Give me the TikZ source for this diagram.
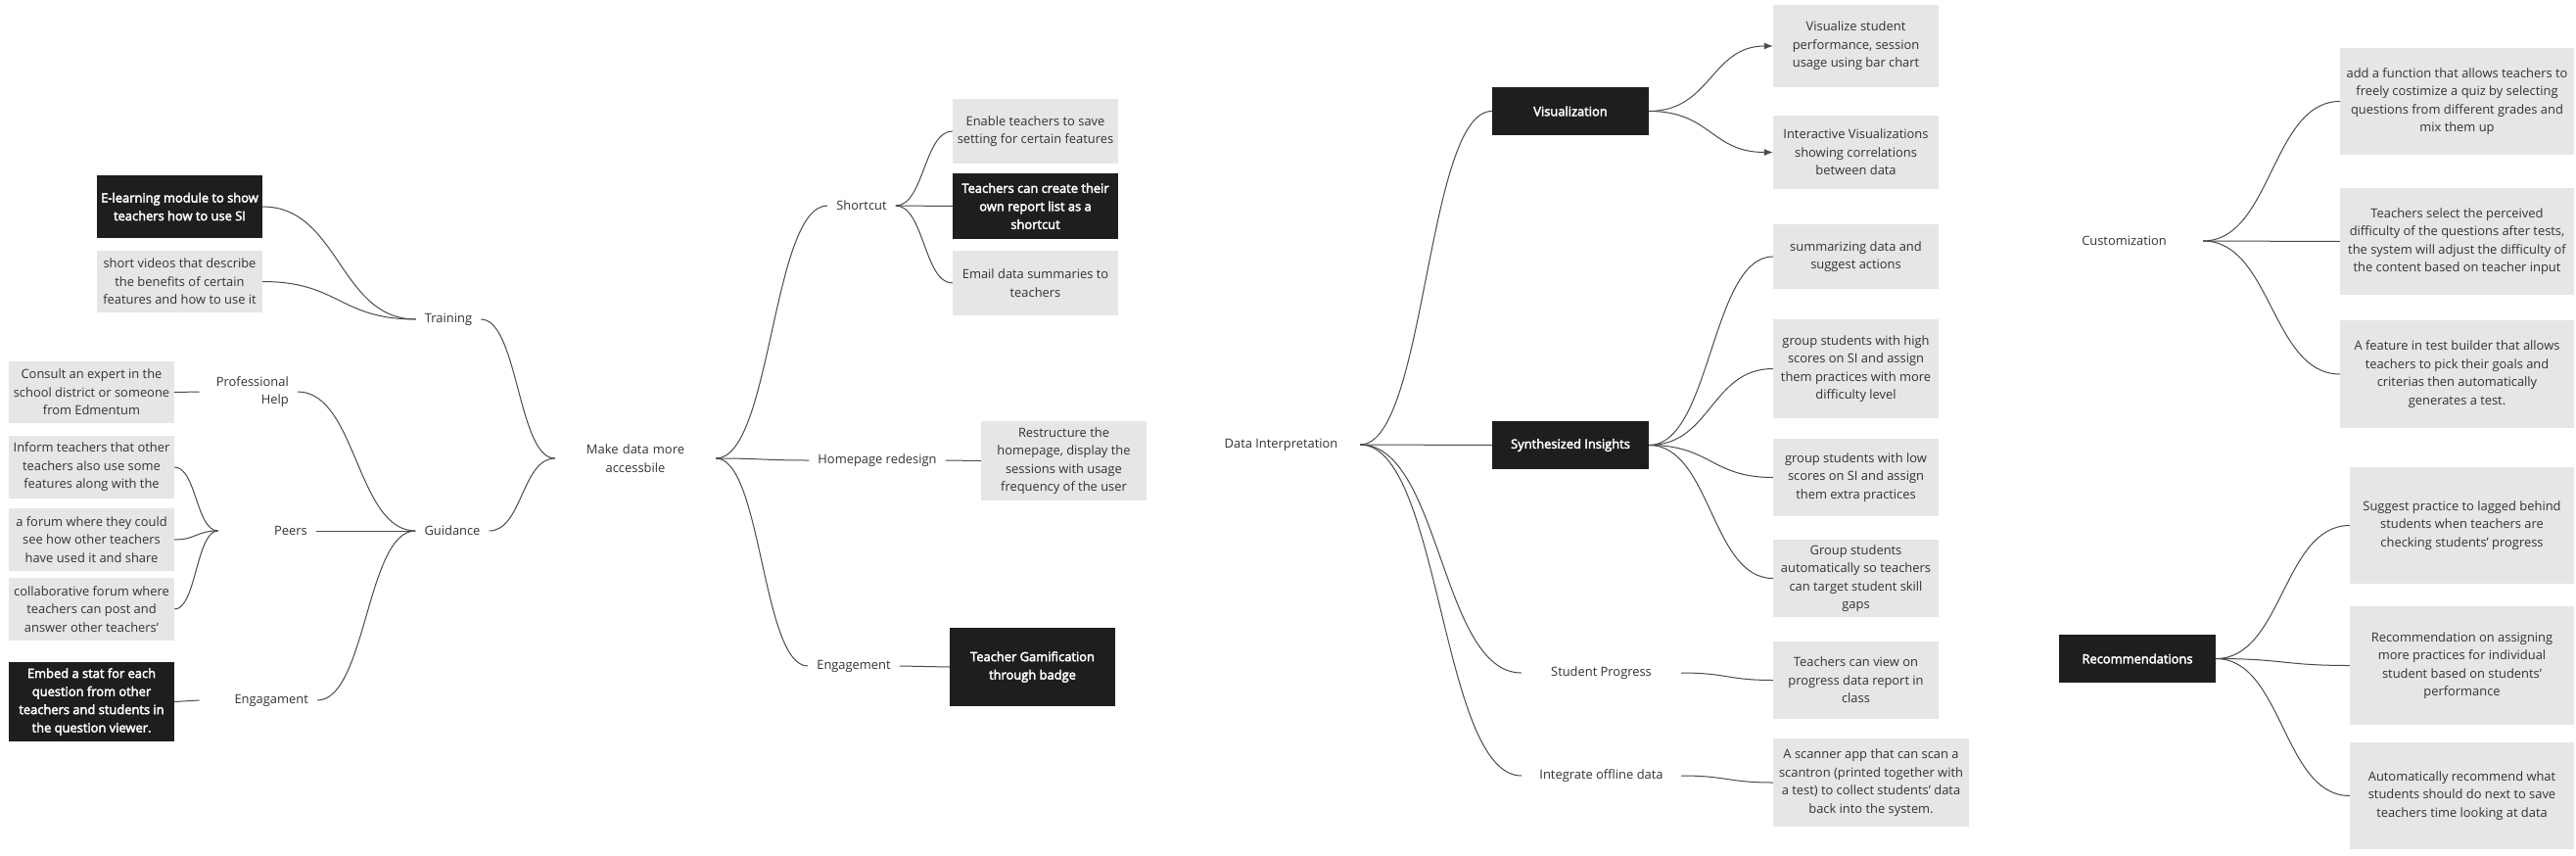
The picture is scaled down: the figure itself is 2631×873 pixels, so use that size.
\documentclass[tikz,border=0pt]{standalone}
\usepackage{fontspec}
\setmainfont{Open Sans}
\newfontfamily\semib{Open Sans}[FakeBold=3]
\usetikzlibrary{calc,arrows.meta}
\definecolor{boxgray}{HTML}{E6E6E6}
\definecolor{boxblack}{HTML}{1E1E1E}
\definecolor{txt}{HTML}{333333}
\definecolor{lnc}{HTML}{4A4A4A}
\newcommand\mmfont{\fontsize{12.9}{18.5}\selectfont}
\tikzset{
  gbox/.style={fill=boxgray, text=txt, align=center, inner xsep=1pt, inner ysep=0pt, font=\mmfont},
  bbox/.style={fill=boxblack, text=white, align=center, inner xsep=1pt, inner ysep=0pt, font=\mmfont\semib},
  lbl/.style={text=txt, align=center, inner xsep=9pt, inner ysep=2pt, font=\mmfont},
  mm/.style={to path={let \p1=(\tikztostart), \p2=(\tikztotarget) in
     .. controls ({(\x1+\x2)/2},\y1) and ({(\x1+\x2)/2},\y2) .. (\tikztotarget)}},
  link/.style={draw=lnc, line width=1pt},
  arr/.style={link, -{Latex[length=9pt,width=7pt]}}
}
\begin{document}
\begin{tikzpicture}[x=1pt,y=-1pt]
\fill[white] (0,0) rectangle (2631,873);
\useasboundingbox (0,0) rectangle (2631,873);

% ---------- left part ----------
\node[bbox, minimum width=169, minimum height=64] (elearn) at (183.5,211) {E-learning module to show\\teachers how to use SI};
\node[gbox, minimum width=169, minimum height=63] (videos) at (183.5,287.5) {short videos that describe\\the benefits of certain\\features and how to use it};
\node[lbl] (training) at (458,326) {Training};
\node[gbox, minimum width=169, minimum height=63] (consult) at (93.5,400.5) {Consult an expert in the\\school district or someone\\from Edmentum};
\node[lbl, text width=82pt, align=right, anchor=east] (prof) at (304,400) {Professional\\Help};
\node[gbox, minimum width=169, minimum height=64] (inform) at (93.5,477) {Inform teachers that other\\teachers also use some\\features along with the};
\node[gbox, minimum width=169, minimum height=64] (forum) at (93.5,551) {a forum where they could\\see how other teachers\\have used it and share};
\node[gbox, minimum width=169, minimum height=64] (collab) at (93.5,622) {collaborative forum where\\teachers can post and\\answer other teachers'};
\node[lbl, text width=82pt, align=right, anchor=east] (peers) at (323,542) {Peers};
\node[lbl] (guidance) at (462,542) {Guidance};
\node[bbox, minimum width=169, minimum height=81] (embed) at (93.5,716.5) {Embed a stat for each\\question from other\\teachers and students in\\the question viewer.};
\node[lbl, text width=102pt, align=right, anchor=east] (engag) at (324,715) {Engagament};

\node[lbl, text width=146pt] (make) at (649,468) {Make data more\\accessbile};
\node[lbl] (shortcut) at (880,210) {Shortcut};
\node[gbox, minimum width=169, minimum height=66] (enable) at (1057.5,134) {Enable teachers to save\\setting for certain features};
\node[bbox, minimum width=169, minimum height=67] (create) at (1057.5,210.5) {Teachers can create their\\own report list as a\\shortcut};
\node[gbox, minimum width=169, minimum height=66] (email) at (1057.5,289) {Email data summaries to\\teachers};
\node[lbl] (homepage) at (896,470) {Homepage redesign};
\node[gbox, minimum width=169, minimum height=81] (restructure) at (1086.5,470.5) {Restructure the\\homepage, display the\\sessions with usage\\frequency of the user};
\node[lbl] (engage) at (872,680) {Engagement};
\node[bbox, minimum width=169, minimum height=80] (gamif) at (1054.5,681) {Teacher Gamification\\through badge};

\draw[link] (elearn.east) to[mm] (training.west);
\draw[link] (videos.east) to[mm] (training.west);
\draw[link] (consult.east) -- (prof.west);
\draw[link] (inform.east) to[mm] (peers.west);
\draw[link] (forum.east) to[mm] (peers.west);
\draw[link] (collab.east) to[mm] (peers.west);
\draw[link] (embed.east) -- (engag.west);
\draw[link] (prof.east) to[mm] (guidance.west);
\draw[link] (peers.east) to[mm] (guidance.west);
\draw[link] (engag.east) to[mm] (guidance.west);
\draw[link] (training.east) to[mm] (make.west);
\draw[link] (guidance.east) to[mm] (make.west);
\draw[link] (make.east) to[mm] (shortcut.west);
\draw[link] (make.east) to[mm] (homepage.west);
\draw[link] (make.east) to[mm] (engage.west);
\draw[link] (shortcut.east) to[mm] (enable.west);
\draw[link] (shortcut.east) to[mm] (create.west);
\draw[link] (shortcut.east) to[mm] (email.west);
\draw[link] (homepage.east) to[mm] (restructure.west);
\draw[link] (engage.east) to[mm] (gamif.west);

% ---------- data interpretation ----------
\node[lbl, minimum width=161] (di) at (1308.5,454) {Data Interpretation};
\node[bbox, minimum width=160, minimum height=49] (vis) at (1604,113.5) {Visualization};
\node[gbox, minimum width=169, minimum height=84] (vstudent) at (1895.5,47) {Visualize student\\performance, session\\usage using bar chart};
\node[gbox, minimum width=169, minimum height=75] (inter) at (1895.5,155.5) {Interactive Visualizations\\showing correlations\\between data};
\node[bbox, minimum width=160, minimum height=49] (si) at (1604,454.5) {Synthesized Insights};
\node[gbox, minimum width=169, minimum height=66] (summ) at (1895.5,262) {summarizing data and\\suggest actions};
\node[gbox, minimum width=169, minimum height=101] (ghigh) at (1895.5,376.5) {group students with high\\scores on SI and assign\\them practices with more\\difficulty level};
\node[gbox, minimum width=169, minimum height=79] (glow) at (1895.5,487.5) {group students with low\\scores on SI and assign\\them extra practices};
\node[gbox, minimum width=169, minimum height=79] (gstud) at (1895.5,590.5) {Group students\\automatically so teachers\\can target student skill\\gaps};
\node[lbl, minimum width=163] (sp) at (1635.5,687) {Student Progress};
\node[gbox, minimum width=169, minimum height=79] (tcv) at (1895.5,694.5) {Teachers can view on\\progress data report in\\class};
\node[lbl, minimum width=163] (iod) at (1635.5,792) {Integrate offline data};
\node[gbox, minimum width=200, minimum height=90] (scan) at (1911,799) {A scanner app that can scan a\\scantron (printed together with\\a test) to collect students' data\\back into the system.};

\draw[link] (di.east) to[mm] (vis.west);
\draw[link] (di.east) to[mm] (si.west);
\draw[link] (di.east) to[mm] (sp.west);
\draw[link] (di.east) to[mm] (iod.west);
\draw[arr] (vis.east) to[mm] (vstudent.west);
\draw[arr] (vis.east) to[mm] (inter.west);
\draw[link] (si.east) to[mm] (summ.west);
\draw[link] (si.east) to[mm] (ghigh.west);
\draw[link] (si.east) to[mm] (glow.west);
\draw[link] (si.east) to[mm] (gstud.west);
\draw[link] (sp.east) to[mm] (tcv.west);
\draw[link] (iod.east) to[mm] (scan.west);

% ---------- customization / recommendations ----------
\node[lbl, minimum width=161] (cust) at (2169.5,246) {Customization};
\node[gbox, minimum width=239, minimum height=109] (addf) at (2509.5,103.5) {add a function that allows teachers to\\freely costimize a quiz by selecting\\questions from different grades and\\mix them up};
\node[gbox, minimum width=239, minimum height=109] (tsel) at (2509.5,246.5) {Teachers select the perceived\\difficulty of the questions after tests,\\the system will adjust the difficulty of\\the content based on teacher input};
\node[gbox, minimum width=239, minimum height=110] (feat) at (2509.5,382) {A feature in test builder that allows\\teachers to pick their goals and\\criterias then automatically\\generates a test.};
\node[bbox, minimum width=160, minimum height=49] (rec) at (2183,672.5) {Recommendations};
\node[gbox, minimum width=229, minimum height=119] (sugg) at (2514.5,536.5) {Suggest practice to lagged behind\\students when teachers are\\checking students' progress};
\node[gbox, minimum width=229, minimum height=121] (recon) at (2514.5,679.5) {Recommendation on assigning\\more practices for individual\\student based on students'\\performance};
\node[gbox, minimum width=229, minimum height=109] (autor) at (2514.5,812.5) {Automatically recommend what\\students should do next to save\\teachers time looking at data};

\draw[link] (cust.east) to[mm] (addf.west);
\draw[link] (cust.east) to[mm] (tsel.west);
\draw[link] (cust.east) to[mm] (feat.west);
\draw[link] (rec.east) to[mm] (sugg.west);
\draw[link] (rec.east) to[mm] (recon.west);
\draw[link] (rec.east) to[mm] (autor.west);
\end{tikzpicture}
\end{document}
